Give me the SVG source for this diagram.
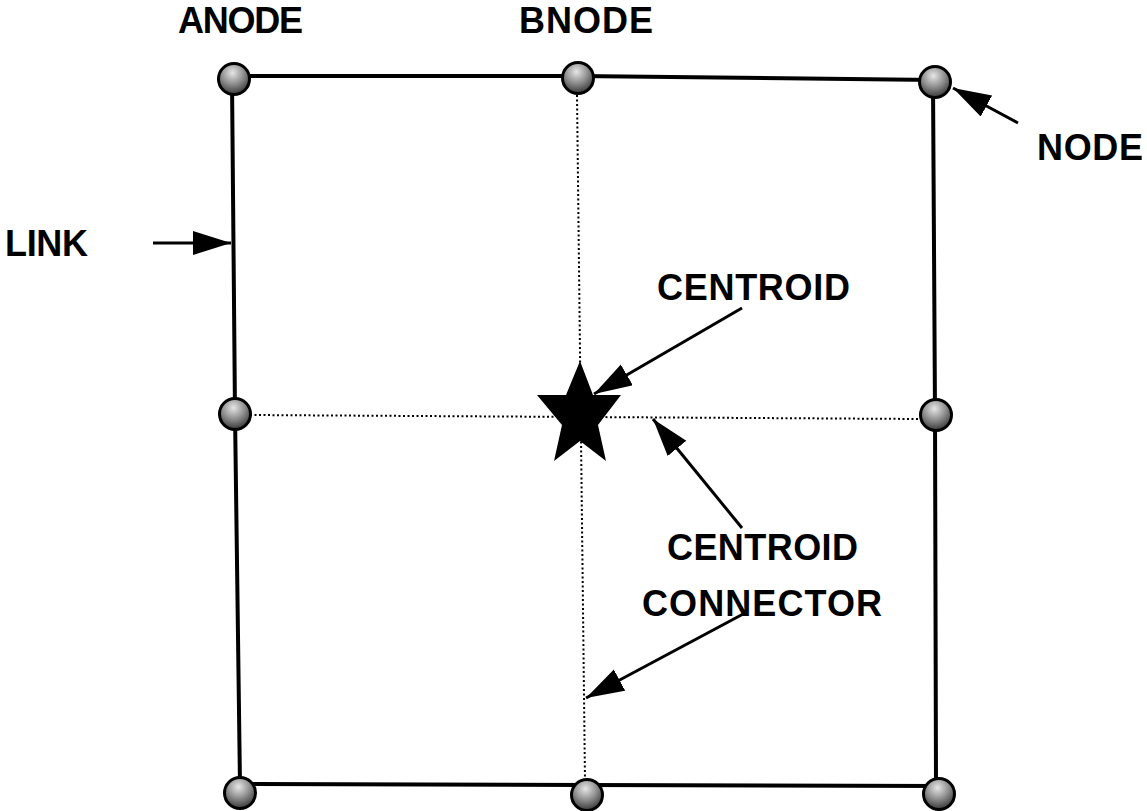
<svg xmlns="http://www.w3.org/2000/svg" width="1147" height="811" viewBox="0 0 1147 811">
  <style>
    .lbl { font-family: "Liberation Sans", Arial, sans-serif; font-weight: bold; font-size: 36px; fill: #000; }
    .link { stroke: #000; stroke-width: 4; fill: none; stroke-linecap: square; }
    .conn { stroke: #000; stroke-width: 2; stroke-dasharray: 2 2.5; fill: none; }
    .ptr { stroke: #000; stroke-width: 3; fill: none; marker-end: url(#head); }
    .node { fill: url(#ball); stroke: #000; stroke-width: 3; }
  </style>
  <defs>
    <radialGradient id="ball" cx="0.45" cy="0.3" r="0.75">
      <stop offset="0" stop-color="#e6e6e6"/>
      <stop offset="0.5" stop-color="#8c8c8c"/>
      <stop offset="1" stop-color="#2a2a2a"/>
    </radialGradient>
    <marker id="head" markerUnits="userSpaceOnUse" markerWidth="42" markerHeight="26" refX="38" refY="12" orient="auto">
      <path d="M0,0 L38,12 L0,24 Z" fill="#000"/>
    </marker>
  </defs>
  <rect width="1147" height="811" fill="#fff"/>

  <!-- links and centroid connectors -->
  <g id="connectors">
    <path class="link" d="M234,76 L578,76 L934,80"/>
    <path class="link" d="M232,80 L235,413 L240,785"/>
    <path class="link" d="M933,82 L935,413 L936,785"/>
    <path class="link" d="M240,784 L586,785 L939,786"/>
    <path class="conn" d="M250,415 L920,419"/>
    <path class="conn" d="M577,95 L585,780"/>
    <!-- pointer arrows -->
    <path class="ptr" d="M153,243 L231,243"/>
    <path class="ptr" d="M1018,123 L953,88"/>
    <path class="ptr" d="M742,308 L594,394"/>
    <path class="ptr" d="M742,528 L653,419"/>
    <path class="ptr" d="M745,613 L586,698"/>
  </g>

  <g id="node-tl"><circle class="node" cx="234" cy="79" r="15.5"/></g>
  <g id="node-tm"><circle class="node" cx="578" cy="78" r="15.5"/></g>
  <g id="node-tr"><circle class="node" cx="935" cy="82" r="15.5"/></g>
  <g id="node-ml"><circle class="node" cx="235" cy="414" r="15.5"/></g>
  <g id="node-mr"><circle class="node" cx="936" cy="415" r="15.5"/></g>
  <g id="node-bl"><circle class="node" cx="240" cy="793" r="15.5"/></g>
  <g id="node-bm"><circle class="node" cx="587" cy="795" r="15.5"/></g>
  <g id="node-br"><circle class="node" cx="939" cy="794" r="15.5"/></g>

  <g id="centroid">
    <polygon points="580,361 593,395 621,395 598,425 606,461 580,441 554,461 562,425 537,395 566,395" fill="#000"/>
  </g>

  <g id="labels">
    <text class="lbl" x="178" y="33" textLength="125">ANODE</text>
    <text class="lbl" x="519" y="33" textLength="134">BNODE</text>
    <text class="lbl" x="5" y="256" textLength="83">LINK</text>
    <text class="lbl" x="1037" y="160" textLength="106">NODE</text>
    <text class="lbl" x="657" y="300" textLength="193">CENTROID</text>
    <text class="lbl" x="667" y="560" textLength="191">CENTROID</text>
    <text class="lbl" x="642" y="616" textLength="240">CONNECTOR</text>
  </g>
</svg>
